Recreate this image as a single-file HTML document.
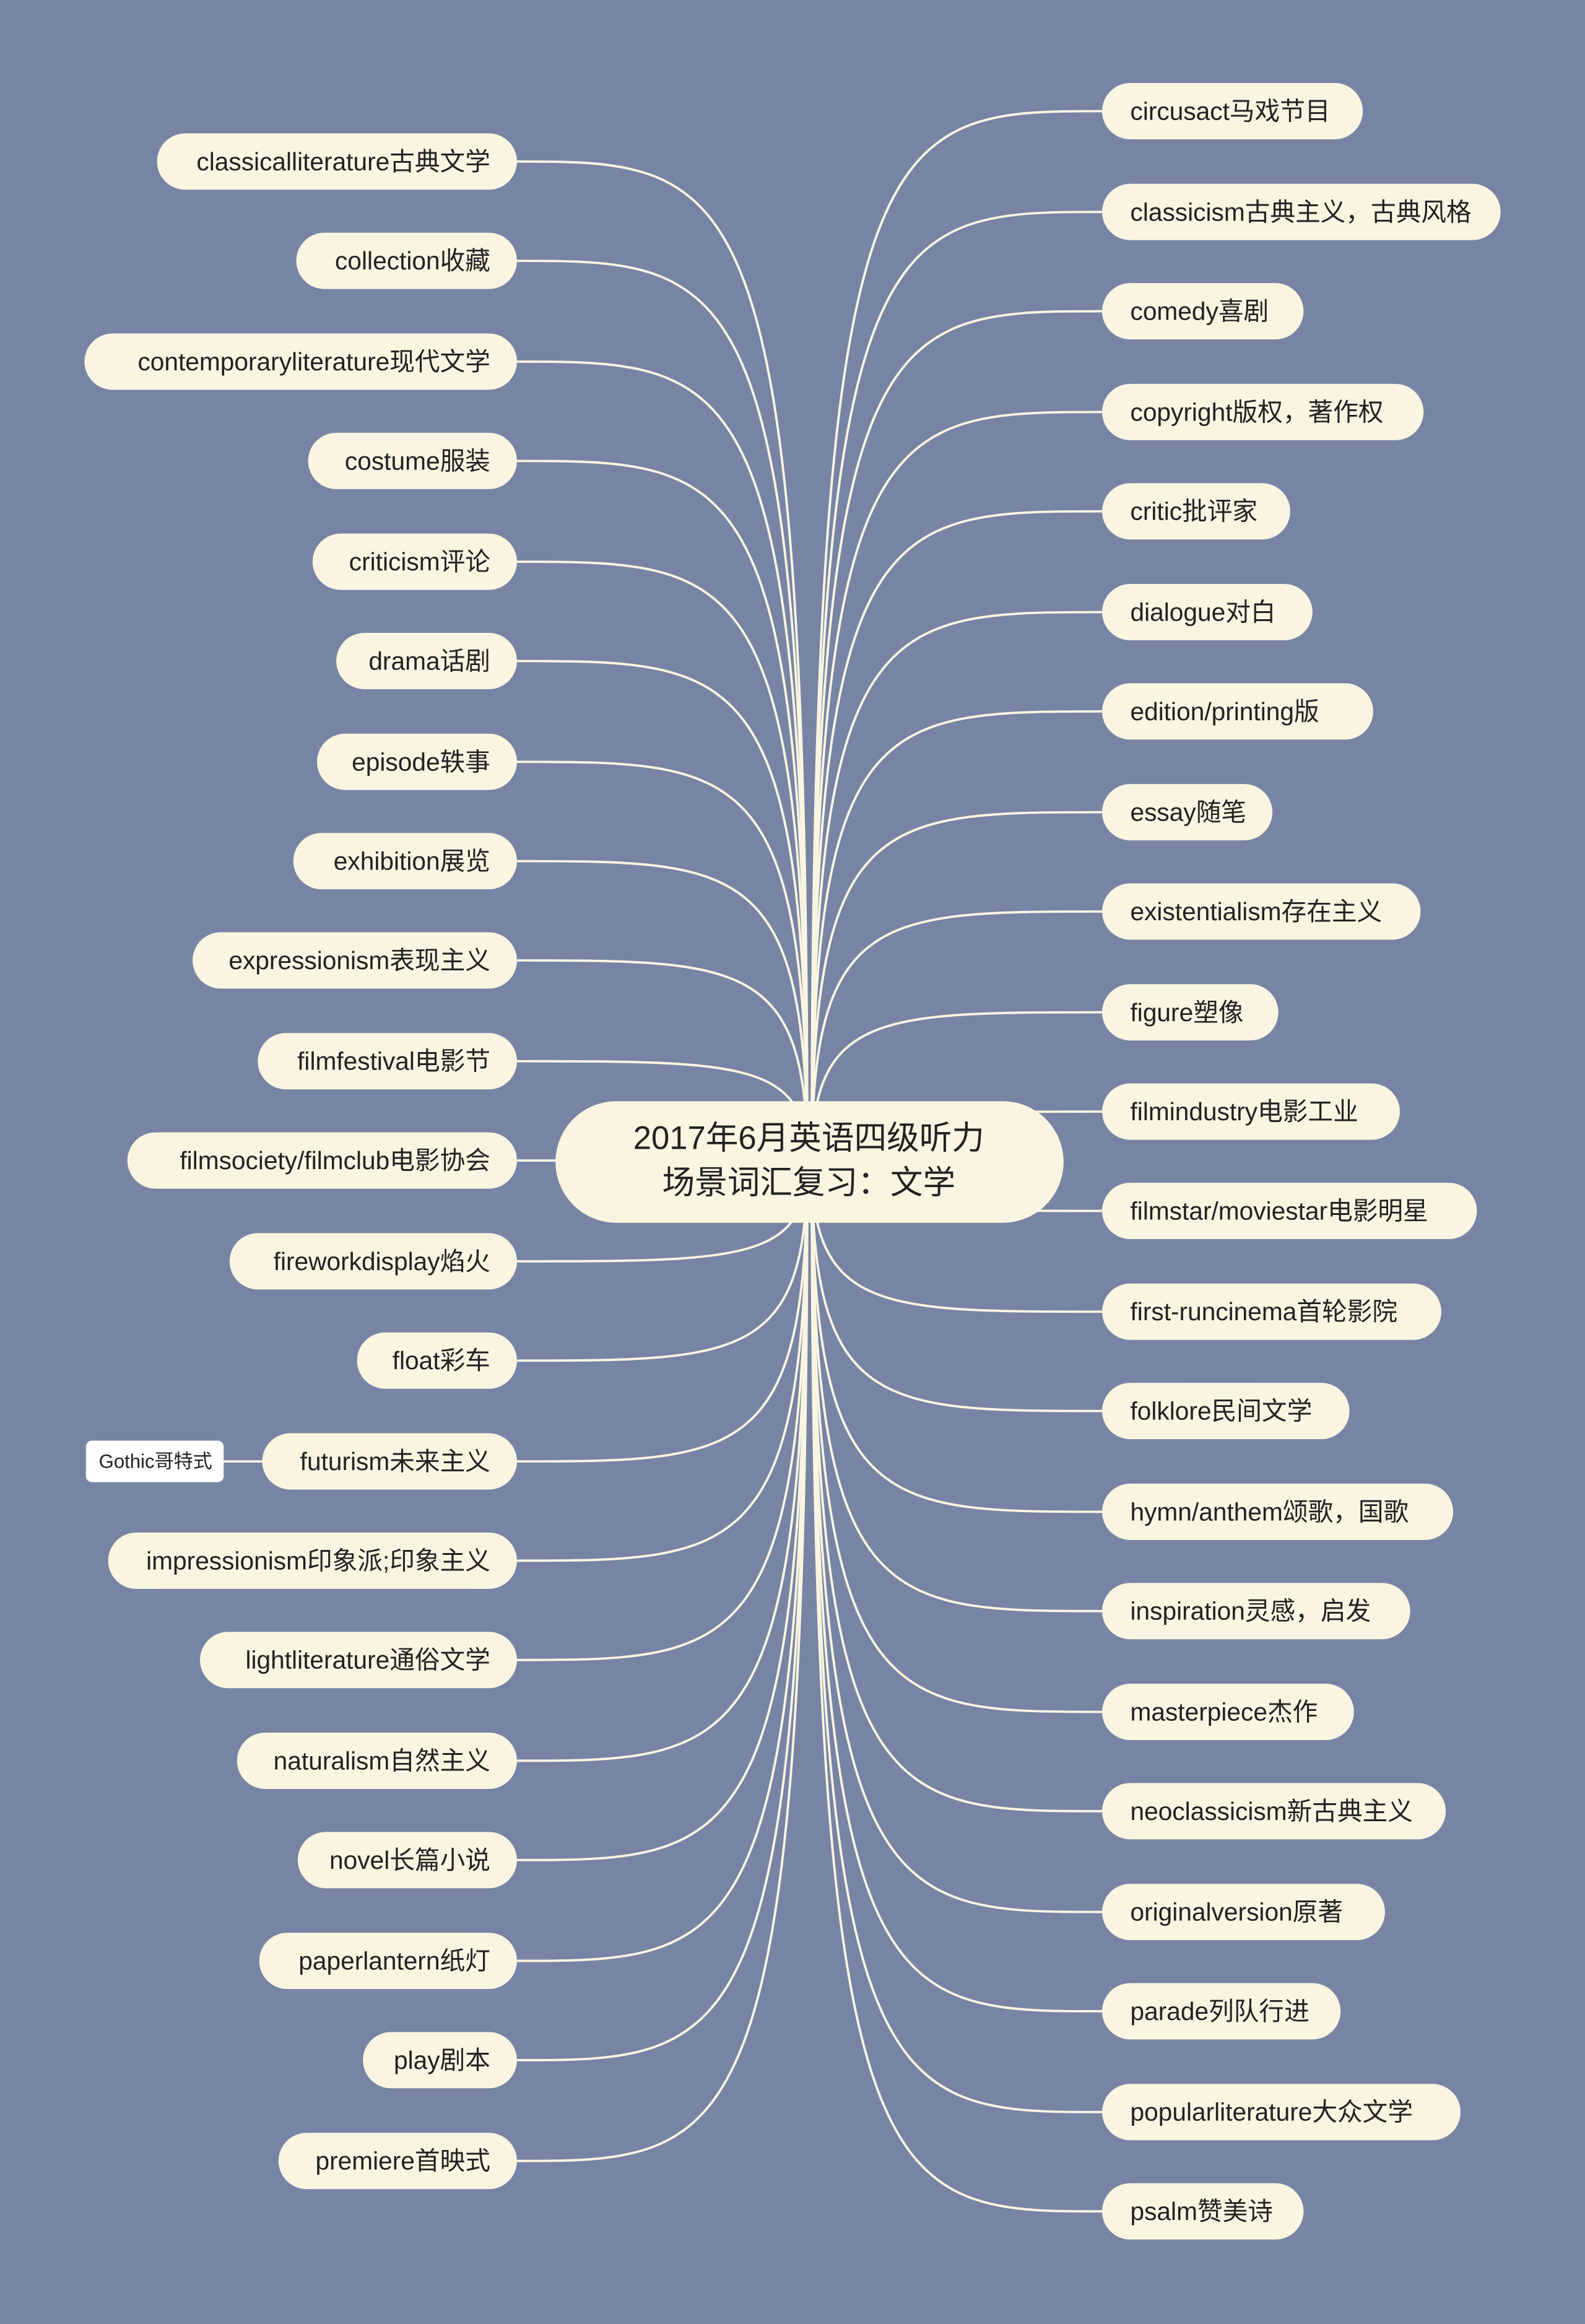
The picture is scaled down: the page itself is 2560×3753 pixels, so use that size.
<!DOCTYPE html>
<html><head><meta charset="utf-8"><style>
html,body{margin:0;padding:0;background:#7784a4;}
svg{display:block}
text{font-family:"Liberation Sans","Noto Sans CJK SC",sans-serif;fill:#222;font-size:17px;dominant-baseline:central}
.l{text-anchor:end}
path{fill:none;stroke:#f9f5e1;stroke-width:1.6}
rect{fill:#f9f5e1}
</style></head><body>
<svg width="2560" height="3753" viewBox="0 0 1070 1568" preserveAspectRatio="none" xmlns="http://www.w3.org/2000/svg">
<rect x="0" y="0" width="1070" height="1568" style="fill:#7784a4"/>
<g>
<path d="M349 109 C500 109 545 109 545 784"/>
<path d="M349 176 C500 176 545 176 545 784"/>
<path d="M349 244 C500 244 545 244 545 784"/>
<path d="M349 311 C500 311 545 311 545 784"/>
<path d="M349 379 C500 379 545 379 545 784"/>
<path d="M349 446 C500 446 545 446 545 784"/>
<path d="M349 514 C500 514 545 514 545 784"/>
<path d="M349 581 C500 581 545 581 545 784"/>
<path d="M349 648 C500 648 545 648 545 784"/>
<path d="M349 716 C500 716 545 716 545 784"/>
<path d="M349 783 C500 783 545 783 545 784"/>
<path d="M349 851 C500 851 545 851 545 784"/>
<path d="M349 918 C500 918 545 918 545 784"/>
<path d="M349 986 C500 986 545 986 545 784"/>
<path d="M349 1053 C500 1053 545 1053 545 784"/>
<path d="M349 1120 C500 1120 545 1120 545 784"/>
<path d="M349 1188 C500 1188 545 1188 545 784"/>
<path d="M349 1255 C500 1255 545 1255 545 784"/>
<path d="M349 1323 C500 1323 545 1323 545 784"/>
<path d="M349 1390 C500 1390 545 1390 545 784"/>
<path d="M349 1458 C500 1458 545 1458 545 784"/>
<path d="M151 986 L177 986"/>
<path d="M744 75 C595 75 548 75 548 784"/>
<path d="M744 143 C595 143 548 143 548 784"/>
<path d="M744 210 C595 210 548 210 548 784"/>
<path d="M744 278 C595 278 548 278 548 784"/>
<path d="M744 345 C595 345 548 345 548 784"/>
<path d="M744 413 C595 413 548 413 548 784"/>
<path d="M744 480 C595 480 548 480 548 784"/>
<path d="M744 548 C595 548 548 548 548 784"/>
<path d="M744 615 C595 615 548 615 548 784"/>
<path d="M744 683 C595 683 548 683 548 784"/>
<path d="M744 750 C595 750 548 750 548 784"/>
<path d="M744 817 C595 817 548 817 548 784"/>
<path d="M744 885 C595 885 548 885 548 784"/>
<path d="M744 952 C595 952 548 952 548 784"/>
<path d="M744 1020 C595 1020 548 1020 548 784"/>
<path d="M744 1087 C595 1087 548 1087 548 784"/>
<path d="M744 1155 C595 1155 548 1155 548 784"/>
<path d="M744 1222 C595 1222 548 1222 548 784"/>
<path d="M744 1290 C595 1290 548 1290 548 784"/>
<path d="M744 1357 C595 1357 548 1357 548 784"/>
<path d="M744 1425 C595 1425 548 1425 548 784"/>
<path d="M744 1492 C595 1492 548 1492 548 784"/>
</g>
<rect x="375" y="743" width="343" height="82" rx="41"/>
<text x="546" y="768" style="font-size:22px;text-anchor:middle">2017年6月英语四级听力</text>
<text x="546" y="798" style="font-size:22px;text-anchor:middle">场景词汇复习：文学</text>

<rect x="106" y="90" width="243" height="38" rx="19"/><text class="l" x="331" y="109">classicalliterature古典文学</text>
<rect x="200" y="157" width="149" height="38" rx="19"/><text class="l" x="331" y="176">collection收藏</text>
<rect x="57" y="225" width="292" height="38" rx="19"/><text class="l" x="331" y="244">contemporaryliterature现代文学</text>
<rect x="208" y="292" width="141" height="38" rx="19"/><text class="l" x="331" y="311">costume服装</text>
<rect x="211" y="360" width="138" height="38" rx="19"/><text class="l" x="331" y="379">criticism评论</text>
<rect x="227" y="427" width="122" height="38" rx="19"/><text class="l" x="331" y="446">drama话剧</text>
<rect x="214" y="495" width="135" height="38" rx="19"/><text class="l" x="331" y="514">episode轶事</text>
<rect x="198" y="562" width="151" height="38" rx="19"/><text class="l" x="331" y="581">exhibition展览</text>
<rect x="130" y="629" width="219" height="38" rx="19"/><text class="l" x="331" y="648">expressionism表现主义</text>
<rect x="174" y="697" width="175" height="38" rx="19"/><text class="l" x="331" y="716">filmfestival电影节</text>
<rect x="86" y="764" width="263" height="38" rx="19"/><text class="l" x="331" y="783">filmsociety/filmclub电影协会</text>
<rect x="155" y="832" width="194" height="38" rx="19"/><text class="l" x="331" y="851">fireworkdisplay焰火</text>
<rect x="241" y="899" width="108" height="38" rx="19"/><text class="l" x="331" y="918">float彩车</text>
<rect x="177" y="967" width="172" height="38" rx="19"/><text class="l" x="331" y="986">futurism未来主义</text>
<rect x="73" y="1034" width="276" height="38" rx="19"/><text class="l" x="331" y="1053">impressionism印象派;印象主义</text>
<rect x="135" y="1101" width="214" height="38" rx="19"/><text class="l" x="331" y="1120">lightliterature通俗文学</text>
<rect x="160" y="1169" width="189" height="38" rx="19"/><text class="l" x="331" y="1188">naturalism自然主义</text>
<rect x="201" y="1236" width="148" height="38" rx="19"/><text class="l" x="331" y="1255">novel长篇小说</text>
<rect x="175" y="1304" width="174" height="38" rx="19"/><text class="l" x="331" y="1323">paperlantern纸灯</text>
<rect x="245" y="1371" width="104" height="38" rx="19"/><text class="l" x="331" y="1390">play剧本</text>
<rect x="188" y="1439" width="161" height="38" rx="19"/><text class="l" x="331" y="1458">premiere首映式</text>

<rect x="58" y="972" width="93" height="28" rx="4" style="fill:#fff"/><text x="105" y="986" style="font-size:13px;text-anchor:middle">Gothic哥特式</text>

<rect x="744" y="56" width="176" height="38" rx="19"/><text x="763" y="75">circusact马戏节目</text>
<rect x="744" y="124" width="269" height="38" rx="19"/><text x="763" y="143">classicism古典主义，古典风格</text>
<rect x="744" y="191" width="136" height="38" rx="19"/><text x="763" y="210">comedy喜剧</text>
<rect x="744" y="259" width="217" height="38" rx="19"/><text x="763" y="278">copyright版权，著作权</text>
<rect x="744" y="326" width="127" height="38" rx="19"/><text x="763" y="345">critic批评家</text>
<rect x="744" y="394" width="142" height="38" rx="19"/><text x="763" y="413">dialogue对白</text>
<rect x="744" y="461" width="183" height="38" rx="19"/><text x="763" y="480">edition/printing版</text>
<rect x="744" y="529" width="115" height="38" rx="19"/><text x="763" y="548">essay随笔</text>
<rect x="744" y="596" width="215" height="38" rx="19"/><text x="763" y="615">existentialism存在主义</text>
<rect x="744" y="664" width="119" height="38" rx="19"/><text x="763" y="683">figure塑像</text>
<rect x="744" y="731" width="201" height="38" rx="19"/><text x="763" y="750">filmindustry电影工业</text>
<rect x="744" y="798" width="253" height="38" rx="19"/><text x="763" y="817">filmstar/moviestar电影明星</text>
<rect x="744" y="866" width="229" height="38" rx="19"/><text x="763" y="885">first-runcinema首轮影院</text>
<rect x="744" y="933" width="167" height="38" rx="19"/><text x="763" y="952">folklore民间文学</text>
<rect x="744" y="1001" width="237" height="38" rx="19"/><text x="763" y="1020">hymn/anthem颂歌，国歌</text>
<rect x="744" y="1068" width="208" height="38" rx="19"/><text x="763" y="1087">inspiration灵感，启发</text>
<rect x="744" y="1136" width="170" height="38" rx="19"/><text x="763" y="1155">masterpiece杰作</text>
<rect x="744" y="1203" width="232" height="38" rx="19"/><text x="763" y="1222">neoclassicism新古典主义</text>
<rect x="744" y="1271" width="191" height="38" rx="19"/><text x="763" y="1290">originalversion原著</text>
<rect x="744" y="1338" width="161" height="38" rx="19"/><text x="763" y="1357">parade列队行进</text>
<rect x="744" y="1406" width="242" height="38" rx="19"/><text x="763" y="1425">popularliterature大众文学</text>
<rect x="744" y="1473" width="136" height="38" rx="19"/><text x="763" y="1492">psalm赞美诗</text>
</svg>
</body></html>
